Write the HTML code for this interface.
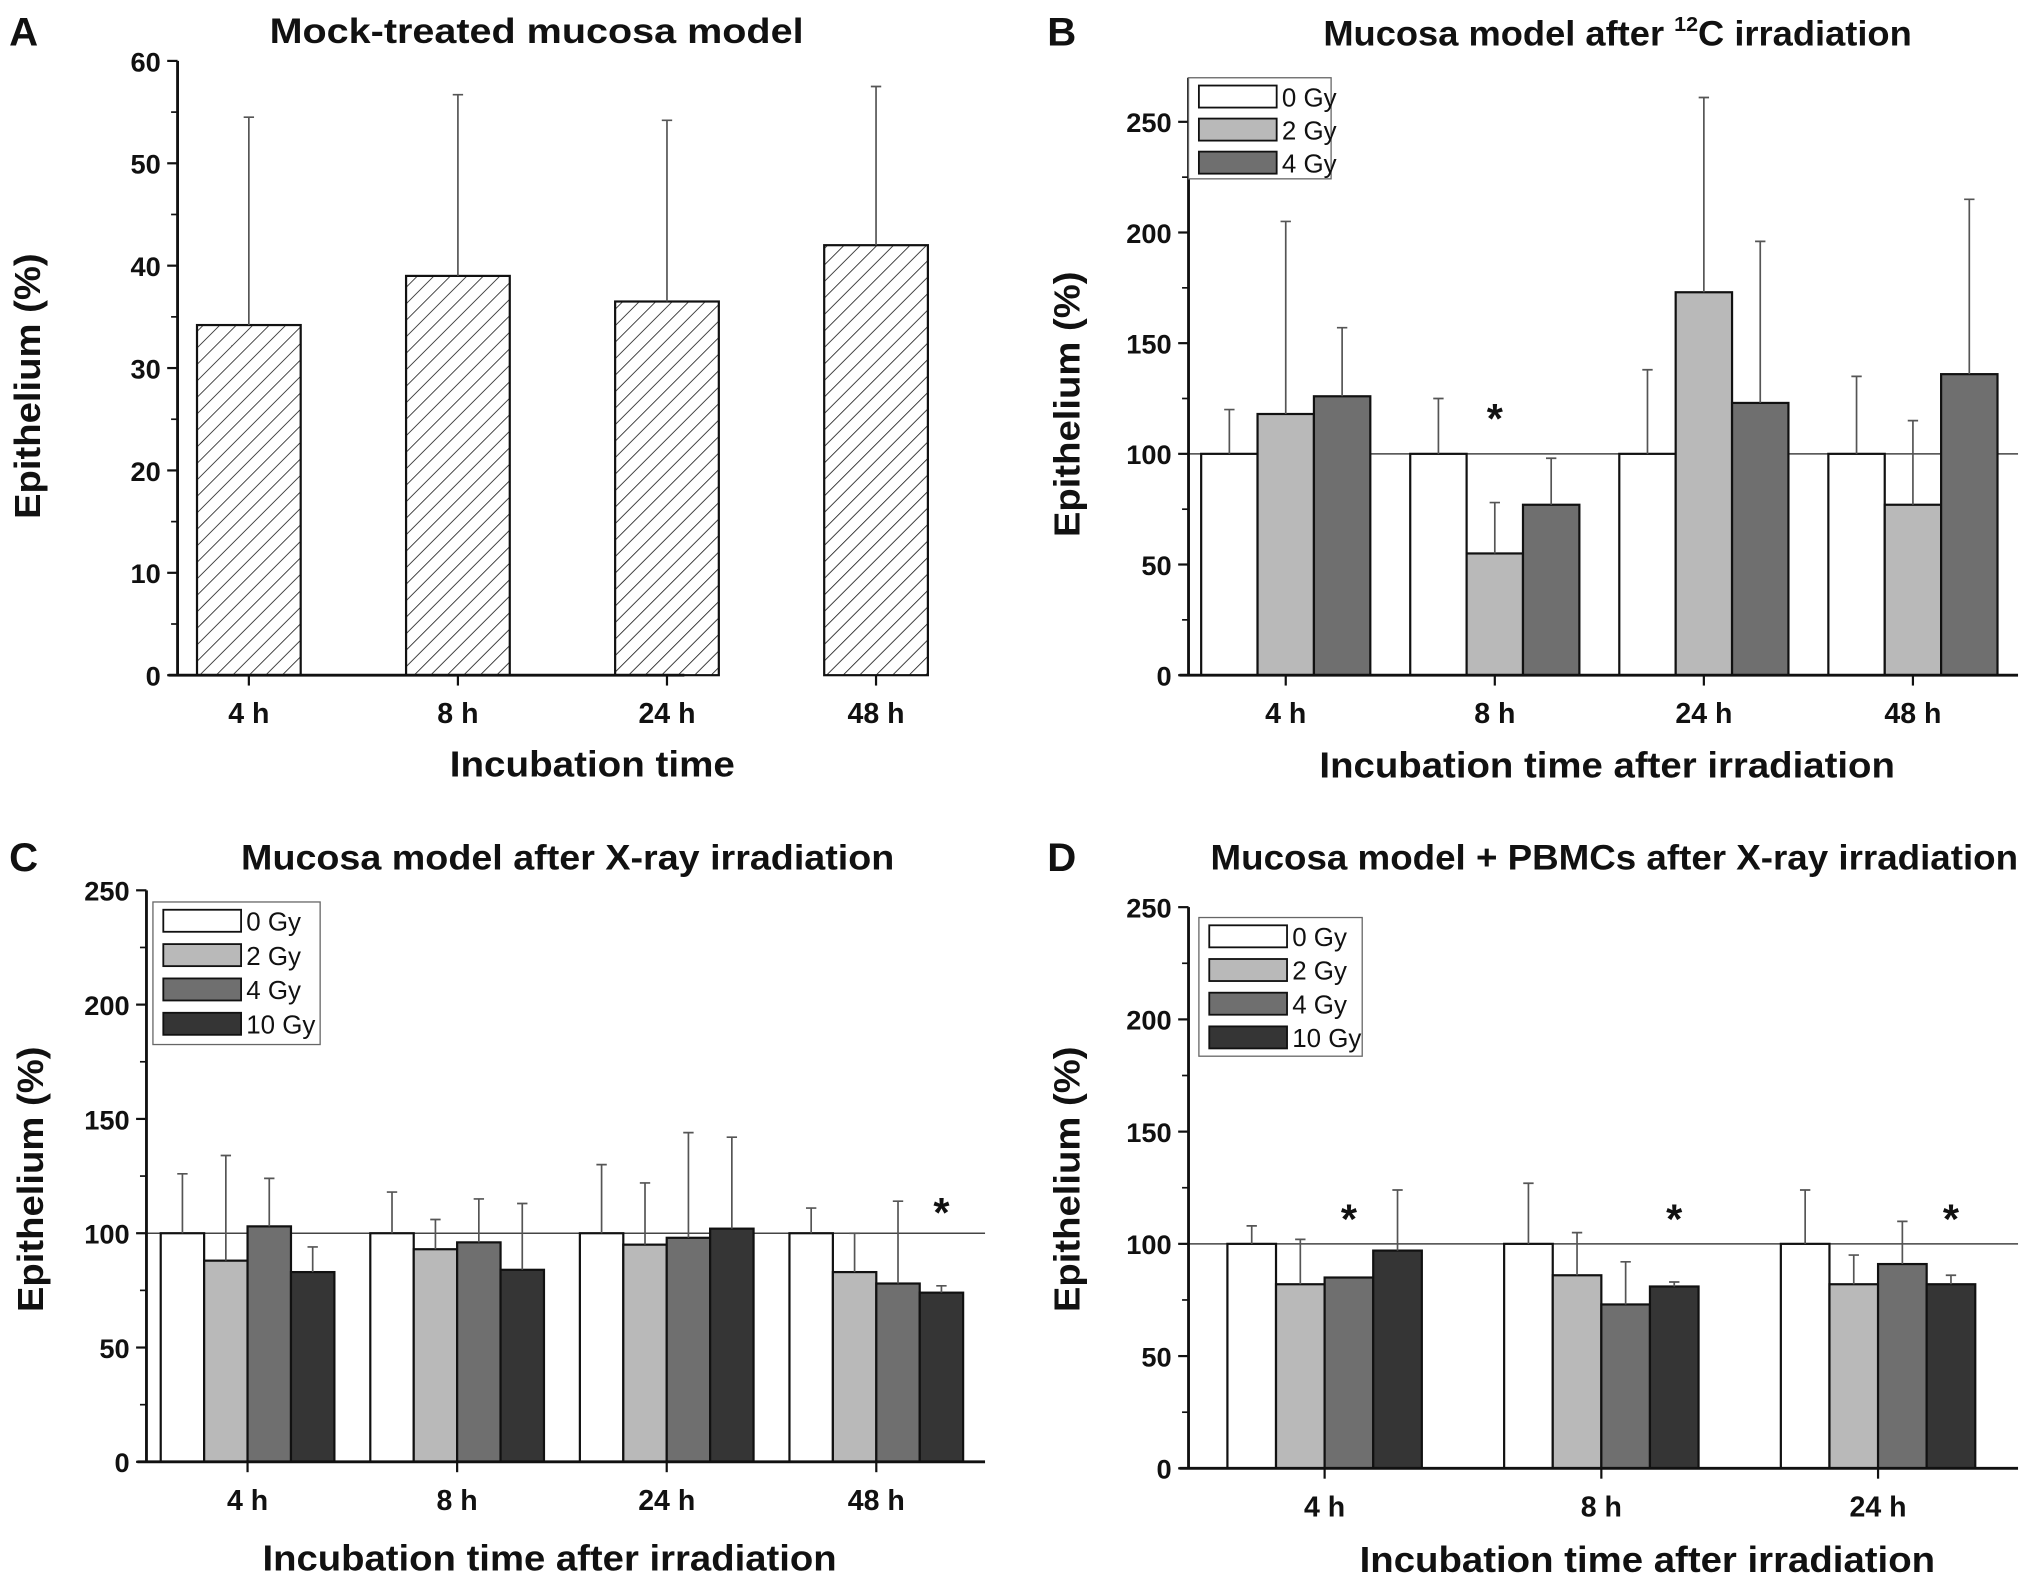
<!DOCTYPE html>
<html><head><meta charset="utf-8"><style>
html,body{margin:0;padding:0;background:#fff;}
svg{display:block;}
text{font-family:"Liberation Sans",Arial,sans-serif;font-weight:bold;fill:#111;}
</style></head><body>
<svg id="fig" width="2031" height="1583" viewBox="0 0 1567 1221.5" preserveAspectRatio="none" xmlns="http://www.w3.org/2000/svg">
<defs><pattern id="hatch" patternUnits="userSpaceOnUse" width="9" height="9" patternTransform="rotate(45)"><rect width="9" height="9" fill="#fff"/><line x1="0" y1="0" x2="0" y2="9" stroke="#222" stroke-width="1.3"/></pattern></defs>
</svg>
<script>
const catsA=["4 h","8 h","24 h","48 h"];
const valsA=[34.2,39,36.5,42];
const errA=[54.5,56.7,54.2,57.5];

const catsB=["4 h","8 h","24 h","48 h"];
const seriesB=["0 Gy","2 Gy","4 Gy"];
const valsB=[[100,118,126],[100,55,77],[100,173,123],[100,77,136]];
const errB=[[120,205,157],[125,78,98],[138,261,196],[135,115,215]];
const starsB=[[1,1]];

const catsC=["4 h","8 h","24 h","48 h"];
const seriesC=["0 Gy","2 Gy","4 Gy","10 Gy"];
const valsC=[[100,88,103,83],[100,93,96,84],[100,95,98,102],[100,83,78,74]];
const errC=[[126,134,124,94],[118,106,115,113],[130,122,144,142],[111,100,114,77]];
const starsC=[[3,3]];

const catsD=["4 h","8 h","24 h"];
const seriesD=["0 Gy","2 Gy","4 Gy","10 Gy"];
const valsD=[[100,82,85,97],[100,86,73,81],[100,82,91,82]];
const errD=[[108,102,85,124],[127,105,92,83],[124,95,110,86]];
const starsD=[[0,2],[1,3],[2,3]];

const ticksA=[0,10,20,30,40,50,60];
const ticks250=[0,50,100,150,200,250];
const colors=["#ffffff","#b9b9b9","#6f6f6f","#353535"];

const svg=document.getElementById('fig');
const NS="http://www.w3.org/2000/svg";
function el(tag,attrs,parent){const e=document.createElementNS(NS,tag);for(const k in attrs)e.setAttribute(k,attrs[k]);(parent||svg).appendChild(e);return e;}
function txt(s,attrs,parent){const e=el('text',attrs,parent);e.textContent=s;return e;}

function panel(cfg){
  const g=el('g',{});
  
  
  const y=v=>cfg.y0-v/cfg.ymax*(cfg.y0-cfg.ytop);
  const L=txt(cfg.letter,{x:cfg.lx,y:cfg.ly,'font-size':31},g);
  
  const T=el('text',{x:cfg.tx,y:cfg.ty,'font-size':27,textLength:cfg.tl,lengthAdjust:'spacingAndGlyphs'},g);
  T.innerHTML=cfg.title;
  
  if(cfg.ref){const r=el('line',{x1:cfg.x0,x2:cfg.x1,y1:y(100),y2:y(100),stroke:'#444','stroke-width':1.2},g);
    }
  cfg.cats.forEach((c,i)=>{
    const cx=cfg.c0+i*cfg.step;
    const vals=cfg.multi?cfg.vals[i]:[cfg.vals[i]];
    const errs=cfg.multi?cfg.errs[i]:[cfg.errs[i]];
    const k=vals.length;
    vals.forEach((v,j)=>{
      const bx=cx-k*cfg.bw/2+j*cfg.bw;
      const b=el('rect',{x:bx,y:y(v),width:cfg.bw,height:y(0)-y(v),fill:cfg.multi?colors[j]:'url(#hatch)',stroke:'#111','stroke-width':1.7},g);
      
      
      const mx=bx+cfg.bw/2;
      if(errs[j]>v+0.5){
        const e=el('path',{d:`M${mx},${y(v)}V${y(errs[j])}M${mx-4},${y(errs[j])}H${mx+4}`,stroke:'#555','stroke-width':1.3,fill:'none'},g);
        
      }
    });
    el('line',{x1:cx,x2:cx,y1:cfg.y0,y2:cfg.y0+8,stroke:'#111','stroke-width':1.7},g);
    const tl=txt(c,{x:cx,y:cfg.y0+37,'font-size':22,'text-anchor':'middle'},g);
    
  });
  (cfg.stars||[]).forEach(([i,j])=>{
    const cx=cfg.c0+i*cfg.step;const k=cfg.vals[i].length;
    const mx=cx-k*cfg.bw/2+j*cfg.bw+cfg.bw/2;
    const s=txt('*',{x:mx,y:y(cfg.starV)+18,'font-size':32,'text-anchor':'middle'},g);
    
  });
  el('line',{x1:cfg.x0,x2:cfg.x0,y1:cfg.ytop-cfg.over,y2:cfg.y0,stroke:'#111','stroke-width':2.2},g);
  el('line',{x1:cfg.x0-7,x2:cfg.x1,y1:cfg.y0,y2:cfg.y0,stroke:'#111','stroke-width':2.2},g);
  cfg.ticks.forEach((t,ti)=>{
    el('line',{x1:cfg.x0-8,x2:cfg.x0,y1:y(t),y2:y(t),stroke:'#111','stroke-width':1.7},g);
    if(ti<cfg.ticks.length-1){const m=(t+cfg.ticks[ti+1])/2;el('line',{x1:cfg.x0-5,x2:cfg.x0,y1:y(m),y2:y(m),stroke:'#111','stroke-width':1.3},g);}
    const l=txt(String(t),{x:cfg.x0-13,y:y(t)+8,'font-size':21,'text-anchor':'end'},g);
    
  });
  const yt=txt('Epithelium (%)',{x:0,y:0,'font-size':28,'text-anchor':'middle',textLength:205,lengthAdjust:'spacingAndGlyphs',transform:`translate(${cfg.yx},${cfg.ymid}) rotate(-90)`},g);
  
  const xt=txt(cfg.xtitle,{x:cfg.xtx,y:cfg.xty,'font-size':28,'text-anchor':'middle',textLength:cfg.xtl,lengthAdjust:'spacingAndGlyphs'},g);
  
  if(cfg.leg){
    const lg=el('g',{},g);
    
    const [lx,ly,lw,lh,sp]=cfg.leg;
    el('rect',{x:lx,y:ly,width:lw,height:lh,fill:'#fff',stroke:'#666','stroke-width':1},lg);
    cfg.series.forEach((s,j)=>{
      const cy=ly+14+j*sp;
      const it=el('g',{},lg);
      
      el('rect',{x:lx+8,y:cy-8,width:60,height:17,fill:colors[j],stroke:'#111','stroke-width':1.4},it);
      txt(s,{x:lx+72,y:cy+8,'font-size':20,style:'font-weight:normal'},it);
    });
  }
}

panel({name:'panel-a',letter:'A',lx:7,ly:35,title:'Mock-treated mucosa model',tx:208,ty:33,tl:412,
  x0:137,x1:528,y0:521,ytop:47,ymax:60,over:0,ticks:ticksA,cats:catsA,vals:valsA,errs:errA,multi:false,
  c0:192,step:161.3,bw:80,yx:31,ymid:298,xtitle:'Incubation time',xtx:457,xty:599,xtl:220});
panel({name:'panel-b',letter:'B',lx:808,ly:35,title:'Mucosa model after <tspan font-size="16" dy="-11">12</tspan><tspan dy="11">C irradiation</tspan>',tx:1021,ty:35,tl:454,
  x0:917,x1:1557,y0:521,ytop:94,ymax:250,over:34,ticks:ticks250,cats:catsB,series:seriesB,vals:valsB,errs:errB,multi:true,
  c0:992,step:161.3,bw:43.5,yx:833,ymid:312,xtitle:'Incubation time after irradiation',xtx:1240,xty:600,xtl:444,ref:true,stars:starsB,starV:120,
  leg:[917,60,110,78,25.5]});
panel({name:'panel-c',letter:'C',lx:7,ly:672,title:'Mucosa model after X-ray irradiation',tx:186,ty:671,tl:504,
  x0:113,x1:760,y0:1128,ytop:687,ymax:250,over:0,ticks:ticks250,cats:catsC,series:seriesC,vals:valsC,errs:errC,multi:true,
  c0:191,step:161.7,bw:33.5,yx:33,ymid:910,xtitle:'Incubation time after irradiation',xtx:424,xty:1212,xtl:443,ref:true,stars:starsC,starV:113,
  leg:[118,696,129,110,26.5]});
panel({name:'panel-d',letter:'D',lx:808,ly:672,title:'Mucosa model + PBMCs after X-ray irradiation',tx:934,ty:671,tl:623,
  x0:917,x1:1557,y0:1133,ytop:700,ymax:250,over:0,ticks:ticks250,cats:catsD,series:seriesD,vals:valsD,errs:errD,multi:true,
  c0:1022,step:213.5,bw:37.5,yx:833,ymid:910,xtitle:'Incubation time after irradiation',xtx:1271,xty:1213,xtl:444,ref:true,stars:starsD,starV:115,
  leg:[925,708,126,107,26]});
</script>
</body></html>
